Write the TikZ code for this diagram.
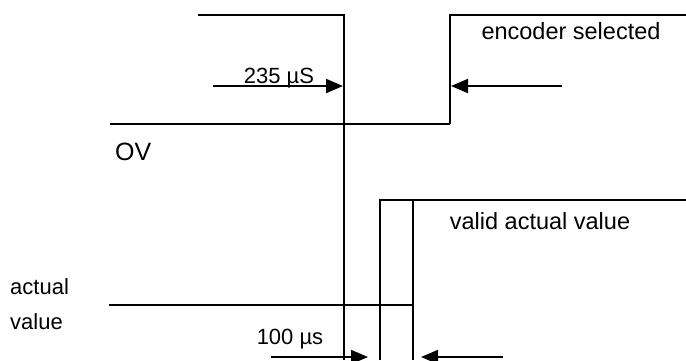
\documentclass[tikz,border=0pt]{standalone}
\usepackage{fontspec}
\setmainfont{Liberation Sans}
\usepackage{tikz}
\usetikzlibrary{arrows.meta,positioning}

\tikzset{
  sig/.style={line width=2.4pt},
  thin sig/.style={line width=1.4pt},
  timearrow/.style={line width=1.8pt, -{Triangle[length=17pt,width=14pt]}},
  lbl/.style={inner sep=0pt, font=\fontsize{22}{26}\selectfont},
  big lbl/.style={inner sep=0pt, font=\fontsize{23.5}{28}\selectfont}
}

\begin{document}
\begin{tikzpicture}[x=1pt,y=-1pt]
  \useasboundingbox (0,0) rectangle (686,360);
  % encoder select signal
  \coordinate (e1) at (198,15);
  \coordinate (e2) at (344,15);
  \coordinate (e3) at (344,360);
  \coordinate (z1) at (110,124);
  \coordinate (z2) at (378,124);
  \coordinate (z3) at (450,124);
  \coordinate (s1) at (450,15);
  \coordinate (s2) at (686,15);
  \draw[sig] (e1) -- (e2) -- (e3);
  \draw[sig] (z1) -- (z2);
  \draw[thin sig] (z2) -- (z3);
  \draw[sig] (z3) -- (s1) -- (s2);
  % actual value signal
  \coordinate (a1) at (109,305);
  \coordinate (a2) at (413,305);
  \coordinate (p1) at (380,360);
  \coordinate (p2) at (380,200);
  \coordinate (p3) at (413,200);
  \coordinate (p4) at (413,360);
  \coordinate (p5) at (686,200);
  \draw[sig] (a1) -- (a2);
  \draw[sig] (p1) -- (p2) -- (p3) -- (p5);
  \draw[sig] (p3) -- (p4);
  % labels
  \node[lbl] (t235) at (279,78) {235 µS};
  \node[big lbl] (enc) at (571,31) {encoder selected};
  \node[lbl, anchor=west, font=\fontsize{25}{30}\selectfont] (ov) at (115,152) {OV};
  \node[big lbl] (valid) at (540,221) {valid actual value};
  \node[lbl, anchor=west, align=left, font=\fontsize{22}{35}\selectfont] (act) at (10,304) {actual\\value};
  \node[lbl] (t100) at (290,339) {100 µs};
  % time marks
  \coordinate (m1) at (213,86);
  \coordinate (m2) at (343,86);
  \coordinate (m3) at (562,86);
  \coordinate (m4) at (451,86);
  \coordinate (m5) at (271,357);
  \coordinate (m6) at (368,357);
  \coordinate (m7) at (503,357);
  \coordinate (m8) at (421,357);
  \draw[timearrow] (m1) -- (m2);
  \draw[timearrow] (m3) -- (m4);
  \draw[timearrow] (m5) -- (m6);
  \draw[timearrow] (m7) -- (m8);
\end{tikzpicture}
\end{document}
